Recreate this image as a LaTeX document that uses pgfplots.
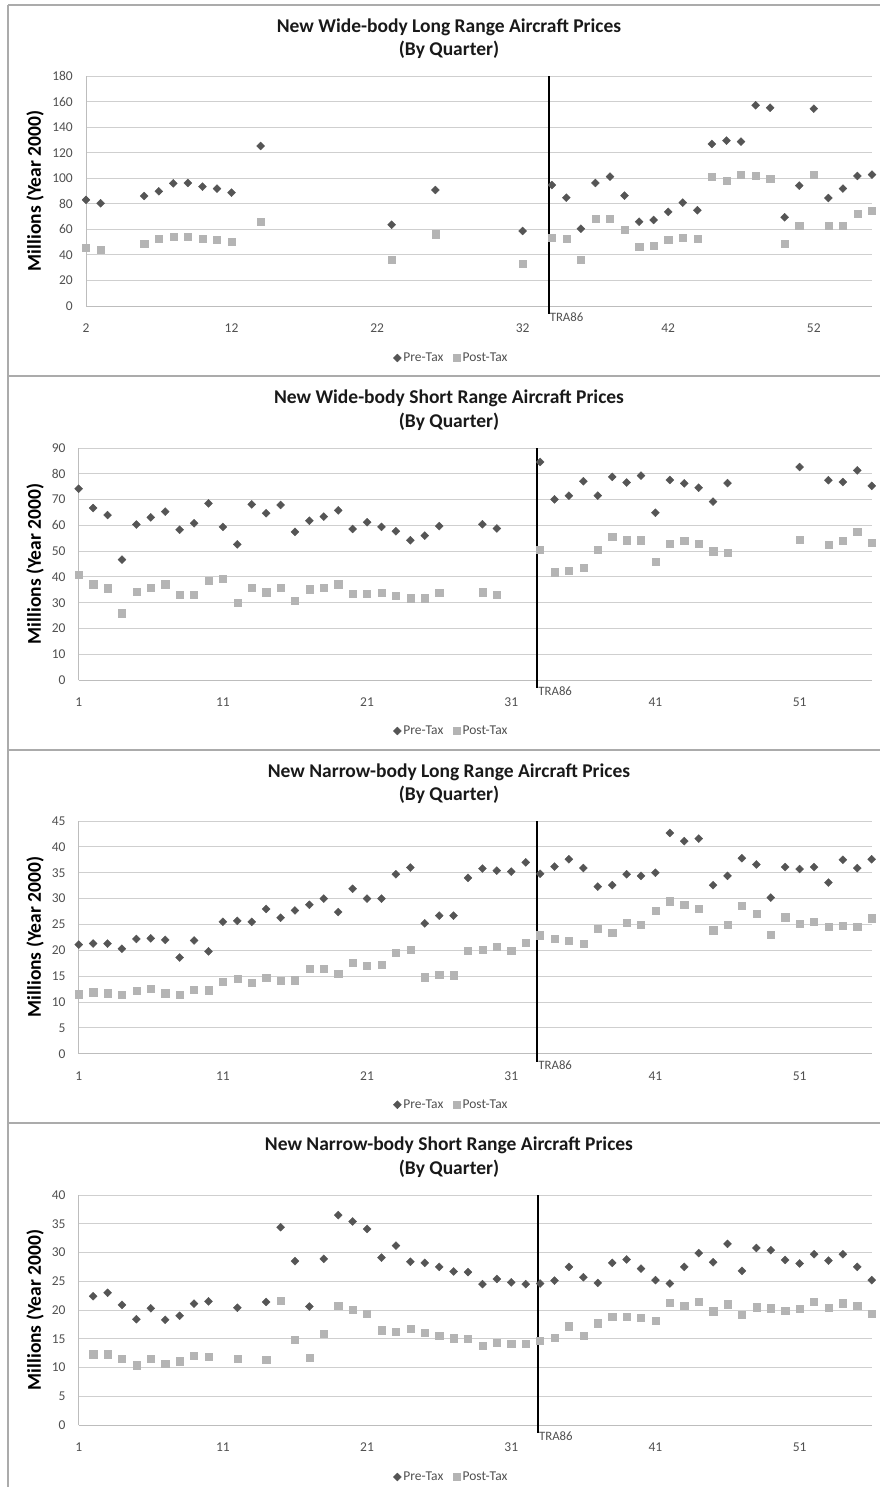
\documentclass[border=0pt]{standalone}
\usepackage{pgfplots}
\pgfplotsset{compat=1.18}
\usepackage{fontspec}
\setmainfont{Carlito}
\definecolor{pregray}{HTML}{555555}
\definecolor{postgray}{HTML}{B4B4B4}
\definecolor{gridgray}{HTML}{CFCFCF}
\definecolor{axgray}{HTML}{BDBDBD}
\definecolor{ticktext}{HTML}{505050}
\definecolor{framegray}{HTML}{ABABAB}
\pgfplotsset{
  panel/.style={
    scale only axis, anchor=south west, ymin=0, clip=false,
    ymajorgrids, grid style={gridgray, line width=1pt},
    axis x line*=bottom, axis y line*=left,
    axis line style={-, draw=axgray, line width=1pt},
    major tick length=0pt,
    ticklabel style={font=\fontsize{13.5}{15}\selectfont, text=ticktext},
    /pgf/number format/assume math mode=true,
    yticklabel style={anchor=east, inner sep=0pt, xshift=-13pt},
    xticklabel style={anchor=north, inner sep=0pt, yshift=-18pt},
    legend columns=2,
    legend style={draw=none, fill=none, anchor=center, inner sep=0pt,
      font=\fontsize{13.5}{15}\selectfont, text=ticktext,
      /tikz/every even column/.append style={column sep=8pt}},
    legend image code/.code={\draw[##1] plot coordinates {(0pt,0pt)};},
  },
  pre/.style={only marks, mark=square*, mark size=2.8pt,
    mark options={rotate=45, fill=pregray, draw=pregray}},
  post/.style={only marks, mark=square*, mark size=3.6pt,
    mark options={fill=postgray, draw=postgray}},
}
\newcommand{\tra}[3]{% x, ytop, text
  \draw[black, line width=2pt] (axis cs:#1,#2) -- (axis cs:#1,0) -- ([yshift=-8pt]axis cs:#1,0);
  \node[anchor=west, inner sep=0pt, font=\fontsize{12.8}{14}\selectfont, text=ticktext]
    at ([xshift=1pt,yshift=-11pt]axis cs:#1,0) {TRA86};}
\newcommand{\ttl}[3]{% ycenter line1, text, ycenter line 2
  \node[font=\fontsize{19.5}{22}\selectfont\bfseries, text=black!90] at (449,-#1) {#2};
  \node[font=\fontsize{19.5}{22}\selectfont\bfseries, text=black!90] at (449,-#3) {(By Quarter)};}
\newcommand{\ylab}[1]{%
  \node[rotate=90, font=\fontsize{19.5}{22}\selectfont\bfseries] at (35,-#1) {Millions (Year 2000)};}
\begin{document}
\begin{tikzpicture}[x=1pt,y=1pt]
\useasboundingbox (0,0) rectangle (880,-1487);
% frames
\draw[framegray, line width=1.6pt] (8,-5) -- (880,-5);
\draw[framegray, line width=1.6pt] (8,-376) -- (880,-376);
\draw[framegray, line width=1.6pt] (8,-750) -- (880,-750);
\draw[framegray, line width=1.6pt] (8,-1123) -- (880,-1123);
\draw[framegray, line width=1.6pt] (8,-5) -- (8,-1487);
%
% ---------- Panel 1 ----------
\ttl{27}{New Wide-body Long Range Aircraft Prices}{50}
\ylab{191}
\begin{axis}[panel, at={(86pt,-306pt)}, width=786pt, height=229.7pt,
  xmin=2, xmax=56, ymax=180, xtick={2,12,22,32,42,52}, ytick={0,20,...,180},
  legend style={at={(0.465,0)}, yshift=-52pt}]
\addplot[pre] coordinates {
(2,83.1)(3,80.5)(6,86.2)(7,89.9)(8,96.1)(9,96.4)(10,93.5)(11,92.0)(12,88.8)
(14,125.4)(23,63.7)(26,90.9)(32,58.8)(34,94.8)(35,84.9)(36,60.6)(37,96.4)
(38,101.4)(39,86.5)(40,66.1)(41,67.4)(42,73.7)(43,81.0)(44,75.0)(45,127.0)
(46,129.6)(47,128.8)(48,157.3)(49,155.4)(50,69.5)(51,94.3)(52,154.6)(53,84.6)
(54,92.0)(55,101.9)(56,102.9)};
\addlegendentry{Pre-Tax}
\addplot[post] coordinates {
(2,45.7)(3,44.4)(6,49.1)(7,53.0)(8,54.3)(9,54.6)(10,52.8)(11,52.2)(12,50.4)
(14,66.1)(23,36.0)(26,56.2)(32,33.4)(34,53.3)(35,53.0)(36,36.3)(37,68.2)
(38,68.7)(39,59.6)(40,46.5)(41,47.3)(42,52.2)(43,53.8)(44,52.8)(45,101.6)
(46,98.2)(47,102.9)(48,101.9)(49,99.8)(50,48.9)(51,62.7)(52,102.7)(53,62.7)
(54,63.0)(55,72.1)(56,74.5)};
\addlegendentry{Post-Tax}
\tra{33.78}{180}{}
\end{axis}
%
% ---------- Panel 2 ----------
\ttl{398}{New Wide-body Short Range Aircraft Prices}{422}
\ylab{564}
\begin{axis}[panel, at={(78.7pt,-680pt)}, width=793pt, height=232pt,
  xmin=1, xmax=56, ymax=90, xtick={1,11,21,31,41,51}, ytick={0,10,...,90},
  legend style={at={(0.470,0)}, yshift=-51pt}]
\addplot[pre] coordinates {
(1,74.2)(2,66.7)(3,64.0)(4,46.7)(5,60.3)(6,63.1)(7,65.3)(8,58.3)(9,60.8)
(10,68.5)(11,59.4)(12,52.6)(13,68.1)(14,64.7)(15,67.9)(16,57.5)(17,61.8)
(18,63.4)(19,65.8)(20,58.6)(21,61.2)(22,59.4)(23,57.7)(24,54.2)(25,56.0)
(26,59.7)(29,60.4)(30,58.8)(33,84.6)(34,70.1)(35,71.5)(36,77.1)(37,71.5)
(38,78.8)(39,76.6)(40,79.3)(41,64.9)(42,77.6)(43,76.3)(44,74.6)(45,69.2)
(46,76.4)(51,82.6)(53,77.5)(54,76.8)(55,81.3)(56,75.3)};
\addlegendentry{Pre-Tax}
\addplot[post] coordinates {
(1,41.0)(2,37.2)(3,35.6)(4,25.9)(5,34.4)(6,35.9)(7,37.2)(8,33.0)(9,33.2)
(10,38.4)(11,39.4)(12,30.1)(13,35.9)(14,34.1)(15,35.9)(16,30.8)(17,35.2)
(18,35.9)(19,37.2)(20,33.5)(21,33.5)(22,34.0)(23,32.7)(24,31.7)(25,31.7)
(26,33.8)(29,34.1)(30,33.2)(33,50.4)(34,41.8)(35,42.4)(36,43.6)(37,50.4)
(38,55.6)(39,54.2)(40,54.2)(41,45.8)(42,52.9)(43,54.1)(44,52.8)(45,50.0)
(46,49.3)(51,54.3)(53,52.6)(54,54.1)(55,57.5)(56,53.3)};
\addlegendentry{Post-Tax}
\tra{32.8}{90}{}
\end{axis}
%
% ---------- Panel 3 ----------
\ttl{772}{New Narrow-body Long Range Aircraft Prices}{795}
\ylab{937}
\begin{axis}[panel, at={(78.7pt,-1053.7pt)}, width=793pt, height=232.7pt,
  xmin=1, xmax=56, ymax=45, xtick={1,11,21,31,41,51}, ytick={0,5,...,45},
  legend style={at={(0.470,0)}, yshift=-51pt}]
\addplot[pre] coordinates {
(1,21.1)(2,21.3)(3,21.3)(4,20.3)(5,22.2)(6,22.3)(7,22.0)(8,18.6)(9,21.9)
(10,19.8)(11,25.5)(12,25.7)(13,25.5)(14,28.0)(15,26.3)(16,27.7)(17,28.8)
(18,30.0)(19,27.4)(20,31.9)(21,30.0)(22,30.0)(23,34.7)(24,36.0)(25,25.2)
(26,26.7)(27,26.7)(28,34.0)(29,35.8)(30,35.4)(31,35.2)(32,37.0)(33,34.8)
(34,36.2)(35,37.6)(36,35.9)(37,32.3)(38,32.6)(39,34.7)(40,34.4)(41,35.0)
(42,42.7)(43,41.1)(44,41.6)(45,32.6)(46,34.4)(47,37.8)(48,36.6)(49,30.2)
(50,36.1)(51,35.7)(52,36.1)(53,33.1)(54,37.5)(55,35.9)(56,37.6)};
\addlegendentry{Pre-Tax}
\addplot[post] coordinates {
(1,11.5)(2,11.9)(3,11.7)(4,11.4)(5,12.2)(6,12.5)(7,11.7)(8,11.4)(9,12.4)
(10,12.3)(11,13.9)(12,14.5)(13,13.8)(14,14.7)(15,14.1)(16,14.2)(17,16.4)
(18,16.5)(19,15.4)(20,17.6)(21,17.0)(22,17.2)(23,19.5)(24,20.1)(25,14.8)
(26,15.3)(27,15.2)(28,19.9)(29,20.1)(30,20.7)(31,19.9)(32,21.4)(33,22.9)
(34,22.2)(35,21.9)(36,21.3)(37,24.1)(38,23.4)(39,25.3)(40,25.0)(41,27.7)
(42,29.5)(43,28.8)(44,28.0)(45,23.9)(46,25.0)(47,28.6)(48,27.1)(49,23.0)
(50,26.4)(51,25.1)(52,25.5)(53,24.6)(54,24.8)(55,24.6)(56,26.2)};
\addlegendentry{Post-Tax}
\tra{32.8}{45}{}
\end{axis}
%
% ---------- Panel 4 ----------
\ttl{1145}{New Narrow-body Short Range Aircraft Prices}{1169}
\ylab{1310}
\begin{axis}[panel, at={(78.7pt,-1425pt)}, width=793pt, height=230pt,
  xmin=1, xmax=56, ymax=40, xtick={1,11,21,31,41,51}, ytick={0,5,...,40},
  legend style={at={(0.470,0)}, yshift=-52pt}]
\addplot[pre] coordinates {
(2,22.4)(3,23.0)(4,20.9)(5,18.4)(6,20.3)(7,18.3)(8,19.0)(9,21.1)(10,21.5)
(12,20.4)(14,21.4)(15,34.4)(16,28.5)(17,20.6)(18,28.9)(19,36.5)(20,35.4)
(21,34.1)(22,29.1)(23,31.2)(24,28.4)(25,28.2)(26,27.5)(27,26.7)(28,26.6)
(29,24.5)(30,25.4)(31,24.8)(32,24.5)(33,24.6)(34,25.1)(35,27.5)(36,25.7)
(37,24.7)(38,28.2)(39,28.8)(40,27.2)(41,25.2)(42,24.6)(43,27.5)(44,29.9)
(45,28.3)(46,31.5)(47,26.8)(48,30.8)(49,30.4)(50,28.7)(51,28.1)(52,29.7)
(53,28.6)(54,29.7)(55,27.5)(56,25.2)};
\addlegendentry{Pre-Tax}
\addplot[post] coordinates {
(2,12.3)(3,12.3)(4,11.5)(5,10.4)(6,11.5)(7,10.6)(8,11.1)(9,12.0)(10,11.9)
(12,11.5)(14,11.3)(15,21.6)(16,14.8)(17,11.7)(18,15.9)(19,20.7)(20,20.0)
(21,19.3)(22,16.5)(23,16.2)(24,16.7)(25,16.0)(26,15.6)(27,15.1)(28,15.0)
(29,13.8)(30,14.3)(31,14.1)(32,14.1)(33,14.6)(34,15.2)(35,17.2)(36,15.5)
(37,17.7)(38,18.9)(39,18.9)(40,18.7)(41,18.1)(42,21.3)(43,20.7)(44,21.4)
(45,19.8)(46,21.0)(47,19.2)(48,20.5)(49,20.3)(50,19.9)(51,20.2)(52,21.4)
(53,20.4)(54,21.2)(55,20.8)(56,19.4)};
\addlegendentry{Post-Tax}
\tra{32.85}{40}{}
\end{axis}
\end{tikzpicture}
\end{document}
